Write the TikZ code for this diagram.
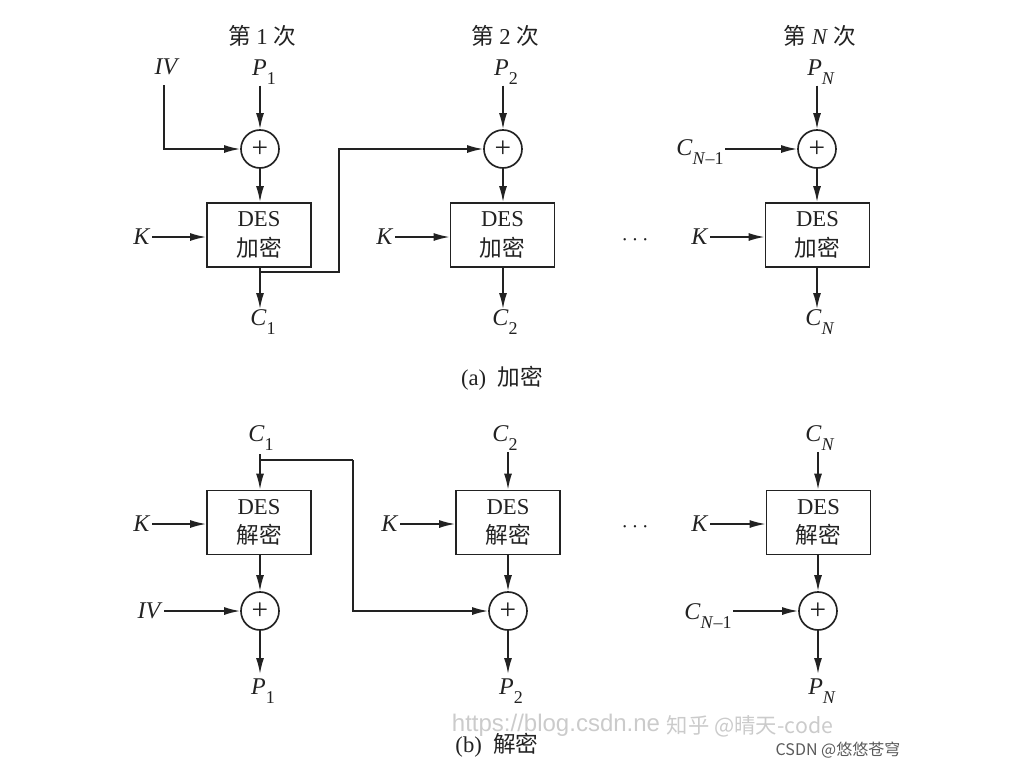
\documentclass[tikz,border=0pt]{standalone}
\usepackage{fontspec}
\setmainfont{Liberation Serif}
\newfontfamily\cjk{Noto Sans CJK SC}
\newfontfamily\wmfont{Liberation Sans}
\usetikzlibrary{arrows.meta,calc}
\definecolor{ink}{HTML}{222222}
\definecolor{wm}{HTML}{CBCBCB}
\definecolor{wmdark}{HTML}{5A5A5A}
\newcommand\sbx[1]{\raisebox{-0.35em}{\fontsize{13.5}{13.5}\selectfont #1}}
\tikzset{
  arr/.style={draw=ink,line width=1.25pt,-{Latex[length=12pt,width=6pt]}},
  ln/.style={draw=ink,line width=1.25pt},
  desbox/.style={draw=ink,line width=1.25pt,rectangle,minimum width=78pt,minimum height=48pt,inner sep=0pt,align=center,font=\fontsize{17}{19}\selectfont,text=ink},
  xorc/.style={draw=ink,line width=1.25pt,circle,minimum size=28.5pt,inner sep=0pt,font=\fontsize{22}{22}\selectfont,text=ink},
  lab/.style={inner sep=1pt,font=\fontsize{18}{20}\selectfont,text=ink},
  ttl/.style={inner sep=1pt,font=\fontsize{17}{19}\selectfont,text=ink},
}
\begin{document}
\begin{tikzpicture}[x=0.75pt,y=-0.75pt]
\useasboundingbox (0,0) rectangle (1011,768);
% ===== (a) encryption =====
\node[ttl] (t1) at (262,36) {{\cjk 第} 1 {\cjk 次}};
\node[ttl] (t2) at (505,36) {{\cjk 第} 2 {\cjk 次}};
\node[ttl] (tN) at (820,36) {{\cjk 第} \textit{N} {\cjk 次}};
\node[lab] (iv1) at (167,67) {\textit{IV}};
\node[lab] (p1) at (264,72) {\textit{P}\sbx{1}};
\node[lab] (p2) at (506,72) {\textit{P}\sbx{2}};
\node[lab] (pN) at (821,72) {\textit{P}\sbx{\textit{N}}};
\node[xorc] (x1) at (260,149) {+};
\node[xorc] (x2) at (503,149) {+};
\node[xorc] (xN) at (817,149) {+};
\node[desbox] (e1) at (259,235) {DES\\[3pt]{\cjk 加密}};
\node[desbox] (e2) at (502.5,235) {DES\\[3pt]{\cjk 加密}};
\node[desbox] (eN) at (817.5,235) {DES\\[3pt]{\cjk 加密}};
\node[lab] (k1) at (142,237) {\textit{K}};
\node[lab] (k2) at (385,237) {\textit{K}};
\node[lab] (kN) at (700,237) {\textit{K}};
\node[lab] (dotsa) at (635,240) {$\cdots$};
\node[lab] (c1) at (263,322) {\textit{C}\sbx{1}};
\node[lab] (c2) at (505,322) {\textit{C}\sbx{2}};
\node[lab] (cN) at (820,322) {\textit{C}\sbx{\textit{N}}};
\node[lab] (cm1a) at (700,152) {\textit{C}\sbx{\textit{N}--1}};
\node[ttl] (capa) at (502,378) {(a)\ \ {\cjk 加密}};
% connectors (a)
\draw[arr] (x1 |- p1.south) -- (x1.north);
\draw[arr] (x2 |- p2.south) -- (x2.north);
\draw[arr] (xN |- pN.south) -- (xN.north);
\coordinate (ivs) at (164,85);
\draw[arr] (ivs) |- (x1.west);
\draw[arr] (cm1a.east |- xN) -- (xN.west);
\draw[arr] (x1.south) -- (x1 |- e1.north);
\draw[arr] (x2.south) -- (x2 |- e2.north);
\draw[arr] (xN.south) -- (xN |- eN.north);
\draw[arr] (k1.east) -- (k1 -| e1.west);
\draw[arr] (k2.east) -- (k2 -| e2.west);
\draw[arr] (kN.east) -- (kN -| eN.west);
\coordinate (o1) at (260,309);
\coordinate (o2) at (503,309);
\coordinate (oN) at (817,309);
\draw[arr] (x1 |- e1.south) -- (o1);
\draw[arr] (x2 |- e2.south) -- (o2);
\draw[arr] (xN |- eN.south) -- (oN);
\coordinate (fa) at (260,272);
\coordinate (fb) at (339,272);
\draw[arr] (fa) -- (fb) |- (x2.west);
% ===== (b) decryption =====
\node[lab] (dc1) at (261,438) {\textit{C}\sbx{1}};
\node[lab] (dc2) at (505,438) {\textit{C}\sbx{2}};
\node[lab] (dcN) at (820,438) {\textit{C}\sbx{\textit{N}}};
\node[desbox] (d1) at (259,522.5) {DES\\[3pt]{\cjk 解密}};
\node[desbox] (d2) at (508,522.5) {DES\\[3pt]{\cjk 解密}};
\node[desbox] (dN) at (818.5,522.5) {DES\\[3pt]{\cjk 解密}};
\node[lab] (dk1) at (142,524) {\textit{K}};
\node[lab] (dk2) at (390,524) {\textit{K}};
\node[lab] (dkN) at (700,524) {\textit{K}};
\node[lab] (dotsb) at (635,527) {$\cdots$};
\node[xorc] (y1) at (260,611) {+};
\node[xorc] (y2) at (508,611) {+};
\node[xorc] (yN) at (818,611) {+};
\node[lab] (iv2) at (150,611) {\textit{IV}};
\node[lab] (cm1b) at (708,616) {\textit{C}\sbx{\textit{N}--1}};
\node[lab] (dp1) at (263,691) {\textit{P}\sbx{1}};
\node[lab] (dp2) at (511,691) {\textit{P}\sbx{2}};
\node[lab] (dpN) at (822,691) {\textit{P}\sbx{\textit{N}}};
% connectors (b)
\coordinate (ga) at (260,454);
\coordinate (gb) at (260,460);
\coordinate (gc) at (353,460);
\draw[arr] (ga) -- (y1 |- d1.north);
\draw[arr] (y2 |- dc2.south) -- (y2 |- d2.north);
\draw[arr] (yN |- dcN.south) -- (yN |- dN.north);
\draw[ln] (gb) -- (gc);
\draw[arr] (gc) |- (y2.west);
\draw[arr] (dk1.east) -- (dk1 -| d1.west);
\draw[arr] (dk2.east) -- (dk2 -| d2.west);
\draw[arr] (dkN.east) -- (dkN -| dN.west);
\draw[arr] (y1 |- d1.south) -- (y1.north);
\draw[arr] (y2 |- d2.south) -- (y2.north);
\draw[arr] (yN |- dN.south) -- (yN.north);
\draw[arr] (iv2.east) -- (y1.west);
\draw[arr] (cm1b.east |- yN) -- (yN.west);
\coordinate (q1) at (260,674);
\coordinate (q2) at (508,674);
\coordinate (qN) at (818,674);
\draw[arr] (y1.south) -- (q1);
\draw[arr] (y2.south) -- (q2);
\draw[arr] (yN.south) -- (qN);
% watermarks
\node[inner sep=0pt,text=wm,font={\fontsize{18}{20}\wmfont}] (wm1) at (556,725) {https://blog.csdn.ne};
\node[inner sep=0pt,text=wm,font={\fontsize{16}{18}\cjk}] (wm2) at (750,726) {知乎 @晴天-code};
\node[inner sep=0pt,text=wmdark,font={\fontsize{12}{14}\cjk}] (wm3) at (838,750) {CSDN @悠悠苍穹};
\node[ttl] (capb) at (497,745) {(b)\ \ {\cjk 解密}};
\end{tikzpicture}
\end{document}
